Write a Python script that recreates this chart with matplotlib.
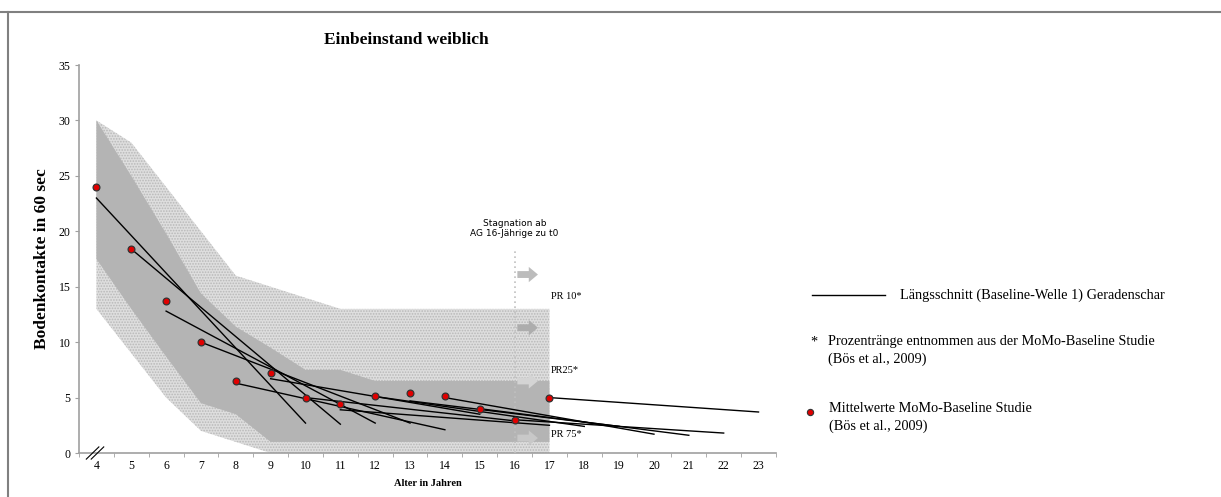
import matplotlib
matplotlib.use("Agg")
import matplotlib.pyplot as plt
from matplotlib.lines import Line2D
import numpy as np

# Data
ages = [4, 5, 6, 7, 8, 9, 10, 11, 12, 13, 14, 15, 16, 17]
means = [24.0, 18.4, 13.7, 10.0, 6.5, 7.2, 5.0, 4.4, 5.1, 5.4, 5.1, 4.0, 3.0, 5.0]

# percentile bands (MoMo baseline)
pr10 = [30, 28, 24, 20, 16, 15, 14, 13, 13, 13, 13, 13, 13, 13]
pr25 = [30, 25, 19.8, 14.4, 11.4, 9.5, 7.5, 7.5, 6.5, 6.5, 6.5, 6.5, 6.5, 6.5]
pr75 = [17.5, 13, 8.7, 4.5, 3.5, 1, 1, 1, 1, 1, 1, 1, 1, 1]
pr90 = [13, 9, 5, 2, 1, 0, 0, 0, 0, 0, 0, 0, 0, 0]

# longitudinal lines: start age, value at start, value 6 years later
line_start = [4, 5, 6, 7, 8, 9, 10, 11, 12, 13, 14, 15, 16, 17]
line_y0 = [23.0, 18.4, 12.8, 10.0, 6.3, 6.7, 5.0, 3.9, 5.1, 4.7, 5.0, 4.0, 3.0, 5.0]
line_y1 = [2.7, 2.6, 2.7, 2.7, 2.1, 3.5, 2.9, 2.5, 2.4, 2.4, 1.7, 1.6, 1.8, 3.7]
span = 6

x_ticks = list(range(4, 24))
y_ticks = [0, 5, 10, 15, 20, 25, 30, 35]

arrow_y = [16.1, 11.3, 6.5, 1.35]
arrow_col = ["#bcbcbc", "#adadad", "#d4d4d4", "#c8c8c8"]
pr_labels = ["PR 10*", "PR25*", "PR 75*"]
pr_label_y = [14.1, 7.4, 1.7]

serif = "Liberation Serif"
plt.rcParams['hatch.linewidth'] = 0.8

fig = plt.figure(figsize=(12.21, 4.97), dpi=100)
ax = fig.add_axes([0.0647, 0.0885, 0.5708, 0.7807])

# bands
ax.fill_between(ages, pr90, pr10, facecolor="#dedede", edgecolor="#b8b8b8",
                hatch="......", linewidth=0, zorder=1)
ax.fill_between(ages, pr75, pr25, facecolor="#b4b4b4", linewidth=0, zorder=2)

# stagnation marker
ax.axvline(16, ymin=0, ymax=(453 - 250) / 388, color="#c0c0c0", ls=(0, (1, 2)),
           lw=1.2, zorder=3)
for yy, c in zip(arrow_y, arrow_col):
    ax.annotate("", xy=(16.75, yy), xytext=(16.0, yy),
                arrowprops=dict(arrowstyle="simple,head_length=0.6,head_width=1.0,tail_width=0.45",
                                color=c, lw=0, mutation_scale=11), zorder=3.5)
ax.text(16, 19.4, "Stagnation ab\nAG 16-Jährige zu t0", ha="center", va="bottom",
        fontsize=6.5, family="DejaVu Sans", linespacing=1.1)
for lab, yy in zip(pr_labels, pr_label_y):
    ax.text(17.05, yy, lab, fontsize=7.5, family=serif, va="center", ha="left")

# longitudinal lines
for s, a, b in zip(line_start, line_y0, line_y1):
    ax.plot([s, s + span], [a, b], color="black", lw=1.0, zorder=4)

# means
ax.scatter(ages, means, s=24, color="#e00000", edgecolor="#333333", linewidth=0.9, zorder=5)

ax.set_xlim(3.5, 23.5)
ax.set_ylim(0, 35)
ax.set_xticks(x_ticks)
ax.set_xticks(np.arange(3.5, 24, 1), minor=True)
ax.set_yticks(y_ticks)
ax.tick_params(axis="x", which="major", length=0, labelsize=8.5, pad=5)
ax.tick_params(axis="x", which="minor", length=3, color="#a0a0a0")
ax.tick_params(axis="y", length=3, color="#a0a0a0", labelsize=8.5, pad=3)
for lab in ax.get_xticklabels() + ax.get_yticklabels():
    lab.set_family(serif)
for side in ["top", "right"]:
    ax.spines[side].set_visible(False)
for side in ["left", "bottom"]:
    ax.spines[side].set_color("#a0a0a0")
    ax.spines[side].set_linewidth(1.2)

ax.set_xlabel("Alter in Jahren", family=serif, fontweight="bold", fontsize=7.5, labelpad=5)
ax.set_ylabel("Bodenkontakte in 60 sec", family=serif, fontweight="bold", fontsize=12.5, labelpad=6)
fig.text(406 / 1221, 1 - 40 / 497, "Einbeinstand weiblich", family=serif, fontweight="bold",
         fontsize=12.5, ha="center", va="center")

# axis break marks
for dx in [-0.07, 0.07]:
    ax.plot([3.96 + dx - 0.18, 3.96 + dx + 0.18], [-0.55, 0.55], color="black", lw=0.8,
            clip_on=False, zorder=6)

# legend on the right
fs = 10.3
fig.add_artist(Line2D([812 / 1221, 885 / 1221], [1 - 295 / 497] * 2, color="black", lw=1.0))
fig.text(900 / 1221, 1 - 295 / 497, "Längsschnitt (Baseline-Welle 1) Geradenschar",
         family=serif, fontsize=fs, va="center")
fig.text(810 / 1221, 1 - 342 / 497, "*", family=serif, fontsize=fs, va="center")
fig.text(828 / 1221, 1 - 342 / 497, "Prozentränge entnommen aus der MoMo-Baseline Studie",
         family=serif, fontsize=fs, va="center")
fig.text(828 / 1221, 1 - 359 / 497, "(Bös et al., 2009)", family=serif, fontsize=fs, va="center")
fig.add_artist(Line2D([810 / 1221], [1 - 412 / 497], marker="o", ms=4.5, color="#e00000",
                      markeredgecolor="#333333", markeredgewidth=0.8, ls=""))
fig.text(829 / 1221, 1 - 409 / 497, "Mittelwerte MoMo-Baseline Studie", family=serif,
         fontsize=fs, va="center")
fig.text(829 / 1221, 1 - 426 / 497, "(Bös et al., 2009)", family=serif, fontsize=fs, va="center")

# frame lines
fig.add_artist(Line2D([0, 1], [1 - 12 / 497] * 2, color="#808080", lw=1.5))
fig.add_artist(Line2D([8 / 1221] * 2, [0, 1 - 12 / 497], color="#808080", lw=1.5))

fig.savefig("out.png", dpi=100)
